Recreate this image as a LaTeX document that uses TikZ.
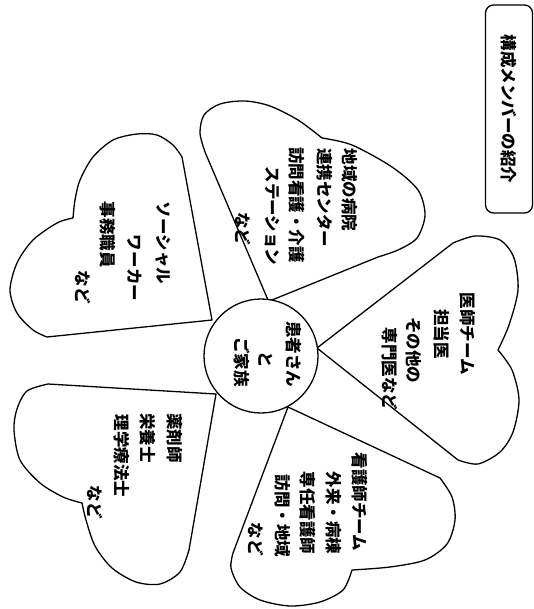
\documentclass[tikz,border=0pt]{standalone}
\usepackage{fontspec}
\newfontfamily\jp{Noto Sans CJK JP}
\begin{document}
\begin{tikzpicture}[x=1pt,y=-1pt]
\tikzset{
  petal/.style={draw, line width=1.3pt, fill=white, line join=round},
  lbl/.style={font=\jp\bfseries\fontsize{16.5}{18}\selectfont, rotate=-90, inner sep=0pt},
}
\useasboundingbox (0,0) rectangle (534,609);
% title box
\node[draw, rounded corners=8pt, line width=1.3pt, rotate=-90, minimum width=208pt, minimum height=47pt,
      font=\jp\bfseries\fontsize{16.5}{18}\selectfont] (title) at (509,109) {構成メンバーの紹介};
% top petal
\draw[petal] (268,300) -- (205,152)
  -- plot[smooth] coordinates {(205,152) (200,133) (204,115) (220,104) (245,101) (270,106) (298,120) (322,138)}
  -- plot[smooth] coordinates {(322,138) (352,145) (392,167) (418,190) (425,215) (417,238) (398,250) (378,257)}
  -- (272,300) -- cycle;
% right petal
\draw[petal] (317,348) -- (453,243)
  -- plot[smooth] coordinates {(453,243) (475,236) (500,240) (514,258) (518,290) (509,325) (498,350)}
  -- plot[smooth] coordinates {(498,350) (512,370) (519,400) (513,432) (500,452) (478,464) (458,460)}
  -- cycle;
% bottom-right petal
\draw[petal] (288,407) -- (440,478)
  -- plot[smooth] coordinates {(440,478) (452,497) (455,520) (447,544) (425,560) (390,567) (352,570)}
  -- plot[smooth] coordinates {(352,570) (343,590) (320,602) (290,606) (260,600) (240,587) (231,568) (233,553)}
  -- cycle;
% bottom-left petal
\draw[petal] (216,394) -- (48,384)
  -- plot[smooth] coordinates {(48,384) (27,391) (17,409) (14,430) (20,460) (40,483) (63,497) (82,503)}
  -- plot[smooth] coordinates {(82,503) (86,520) (95,546) (112,568) (136,582) (160,584) (180,572) (189,550)}
  -- cycle;
% left-top petal
\draw[petal] (212,320) -- (182,157)
  -- plot[smooth] coordinates {(182,157) (173,145) (157,135) (137,134) (113,140) (93,157) (80,180) (75,200) (73,218)}
  -- plot[smooth] coordinates {(73,218) (57,223) (33,240) (17,263) (10,290) (17,313) (33,330) (47,337)}
  -- cycle;
% centre
\node[draw, circle, line width=1.3pt, fill=white, minimum size=114pt, inner sep=0pt] (centre) at (261,356) {};
\node[lbl] (c1) at (294,354) {患者さん};
\node[lbl] (c2) at (266,360) {と};
\node[lbl] (c3) at (242,362) {ご家族};
% top petal text
\node[lbl] (a1) at (350,190) {地域の病院};
\node[lbl] (a2) at (325,198) {連携センター};
\node[lbl] (a3) at (297,205) {訪問看護・介護};
\node[lbl] (a4) at (272,216) {ステーション};
\node[lbl] (a5) at (243,229) {など};
% right petal text
\node[lbl] (b1) at (468,334) {医師チーム};
\node[lbl] (b2) at (442,334) {担当医};
\node[lbl] (b3) at (414,350) {その他の};
\node[lbl] (b4) at (390,369) {専門医など};
% bottom-right petal text
\node[lbl] (d1) at (360,502) {看護師チーム};
\node[lbl] (d2) at (334,513) {外来・病棟};
\node[lbl] (d3) at (308,513) {専任看護師};
\node[lbl] (d4) at (283,516) {訪問・地域};
\node[lbl] (d5) at (256,539) {など};
% bottom-left petal text
\node[lbl] (e1) at (175,438) {薬剤師};
\node[lbl] (e2) at (148,438) {栄養士};
\node[lbl] (e3) at (122,456) {理学療法士};
\node[lbl] (e4) at (95,502) {など};
% left-top petal text
\node[lbl] (f1) at (163,243) {ソーシャル};
\node[lbl] (f2) at (135,268) {ワーカー};
\node[lbl] (f3) at (108,235) {事務職員};
\node[lbl] (f4) at (83,287) {など};
\end{tikzpicture}
\end{document}
